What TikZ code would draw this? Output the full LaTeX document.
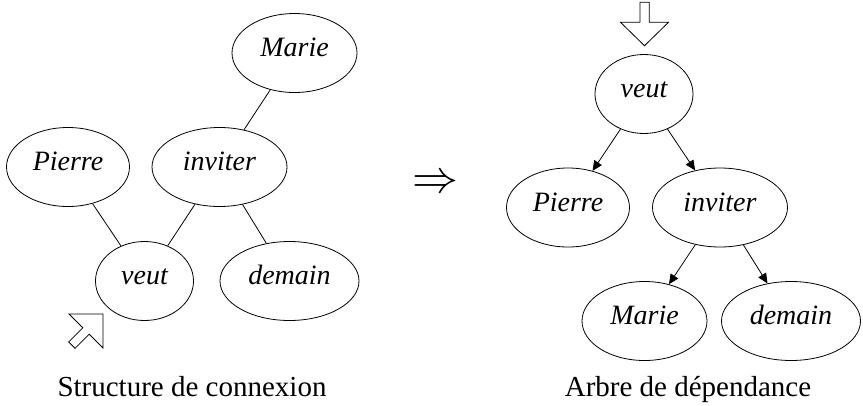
\documentclass[tikz,border=0pt]{standalone}
\usepackage{fontspec}
\setmainfont{Liberation Serif}
\usetikzlibrary{shapes.geometric,arrows.meta}
\begin{document}
\begin{tikzpicture}[x=1pt,y=-1pt,
  word/.style={ellipse,draw,line width=0.8pt,inner sep=0pt,minimum height=79pt,
    text height=0.98em,text depth=0.2em,font=\fontsize{28}{33}\selectfont\itshape},
  link/.style={line width=0.8pt},
  dep/.style={line width=0.8pt,-{Triangle[length=10pt,width=9pt]}},
  caption/.style={anchor=base,inner sep=0pt,font=\fontsize{29}{34}\selectfont},
  hollow/.style={draw,line width=0.8pt,fill=white,line join=miter}]
\useasboundingbox (0,0) rectangle (863,405);

% left: connection structure
\node[word,minimum width=125pt] (lmarie) at (294.5,53) {Marie};
\node[word,minimum width=123pt] (lpierre) at (68,167) {Pierre};
\node[word,minimum width=135pt] (linviter) at (219.5,167) {inviter};
\node[word,minimum width=98pt] (lveut) at (144.5,281) {veut};
\node[word,minimum width=139pt] (ldemain) at (289.5,281) {demain};
\draw[link] (lmarie) -- (linviter);
\draw[link] (lpierre) -- (lveut);
\draw[link] (linviter) -- (lveut);
\draw[link] (linviter) -- (ldemain);
\draw[hollow] (103,314) -- (103,348) -- (89.2,334.2) -- (75.1,348.3)
  -- (68.7,341.9) -- (82.8,327.8) -- (69,314) -- cycle;
\node[caption] (lcap) at (192,396) {Structure de connexion};

% implication
\node[inner sep=0pt] (impl) at (435,184.5) {\scalebox{4.6}{$\Rightarrow$}};

% right: dependency tree
\node[word,minimum width=98pt] (rveut) at (644,94) {veut};
\node[word,minimum width=123pt] (rpierre) at (568,207.5) {Pierre};
\node[word,minimum width=135pt] (rinviter) at (720,207.5) {inviter};
\node[word,minimum width=125pt] (rmarie) at (644.5,321) {Marie};
\node[word,minimum width=139pt] (rdemain) at (791,321) {demain};
\draw[dep] (rveut) -- (rpierre);
\draw[dep] (rveut) -- (rinviter);
\draw[dep] (rinviter) -- (rmarie);
\draw[dep] (rinviter) -- (rdemain);
\draw[hollow] (644.5,45.7) -- (620.5,22.3) -- (640,22.3) -- (640,2.3)
  -- (649.2,2.3) -- (649.2,22.3) -- (668.5,22.3) -- cycle;
\node[caption] (rcap) at (688,396) {Arbre de dépendance};
\end{tikzpicture}
\end{document}
